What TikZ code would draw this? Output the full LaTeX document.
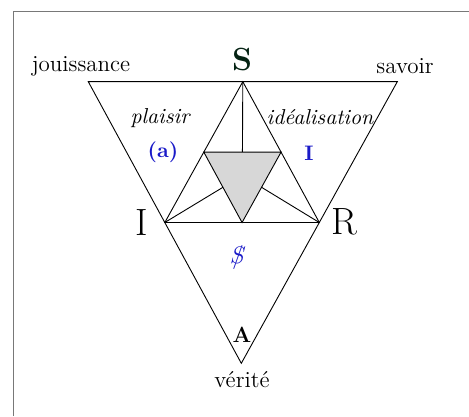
\documentclass[tikz,border=0pt]{standalone}
\usepackage{tikz}
\usetikzlibrary{calc}
\definecolor{framegray}{RGB}{120,120,120}
\definecolor{lacanblue}{RGB}{25,25,200}
\definecolor{darkS}{RGB}{5,35,20}
\definecolor{shade}{RGB}{215,215,215}
\tikzset{
  edge/.style={line width=0.45pt,color=black},
  lbl/.style={inner sep=0pt,font=\fontsize{11.5}{13}\selectfont},
  itlbl/.style={lbl,font=\fontsize{10.8}{13}\selectfont\itshape},
  vertexlbl/.style={inner sep=0pt,font=\fontsize{19}{22}\selectfont},
  bluelbl/.style={inner sep=0pt,text=lacanblue,font=\fontsize{10.5}{13}\selectfont\bfseries}
}

\begin{document}
\begin{tikzpicture}[x=0.5pt,y=-0.5pt]
  \useasboundingbox (0,0) rectangle (469,416);
  \fill[white] (0,0) rectangle (469,416);
  \draw[framegray,line width=0.8pt] (13.5,416) -- (13.5,11.5) -- (469,11.5);

  % outer triangle
  \coordinate (tl) at (88.3,81.7);
  \coordinate (tr) at (397.3,81.7);
  \coordinate (bot) at (241.3,363.3);
  \coordinate (S) at ($(tl)!0.5!(tr)$);
  \coordinate (I) at ($(tl)!0.5!(bot)$);
  \coordinate (R) at ($(tr)!0.5!(bot)$);
  % inner (grey) triangle
  \coordinate (si) at ($(S)!0.5!(I)$);
  \coordinate (sr) at ($(S)!0.5!(R)$);
  \coordinate (ir) at ($(I)!0.5!(R)$);

  \draw[edge] (tl) -- (tr) -- (bot) -- cycle;
  \draw[edge] (S) -- (I) -- (R) -- cycle;
  \draw[edge] (S) -- (ir);
  \draw[edge] (I) -- (sr);
  \draw[edge] (R) -- (si);
  \draw[edge,fill=shade] (si) -- (sr) -- (ir) -- cycle;

  % labels
  \node[lbl] (jouis) at (81,66) {jouissance};
  \node[lbl] (sav) at (405,66) {savoir};
  \node[inner sep=0pt,text=darkS,font=\fontsize{16}{18}\selectfont\bfseries] (Slbl) at (242,60) {S};
  \node[itlbl] (plai) at (160,118) {plaisir};
  \node[itlbl] (ideal) at (320,117) {idéalisation};
  \node[bluelbl] (petita) at (163,152) {(a)};
  \node[bluelbl] (imag) at (309,153) {I};
  \node[vertexlbl] (Ilbl) at (142,223) {I};
  \node[vertexlbl] (Rlbl) at (344,222) {R};
  \node[inner sep=0pt,text=lacanblue,font=\fontsize{13}{15}\selectfont] (barS) at (238,258)
      {\ooalign{$S$\cr\hidewidth$/$\hidewidth}};
  \node[inner sep=0pt,font=\fontsize{11}{13}\selectfont\bfseries] (Alt) at (242,335) {A};
  \node[lbl] (ver) at (242,380) {vérité};
\end{tikzpicture}
\end{document}
